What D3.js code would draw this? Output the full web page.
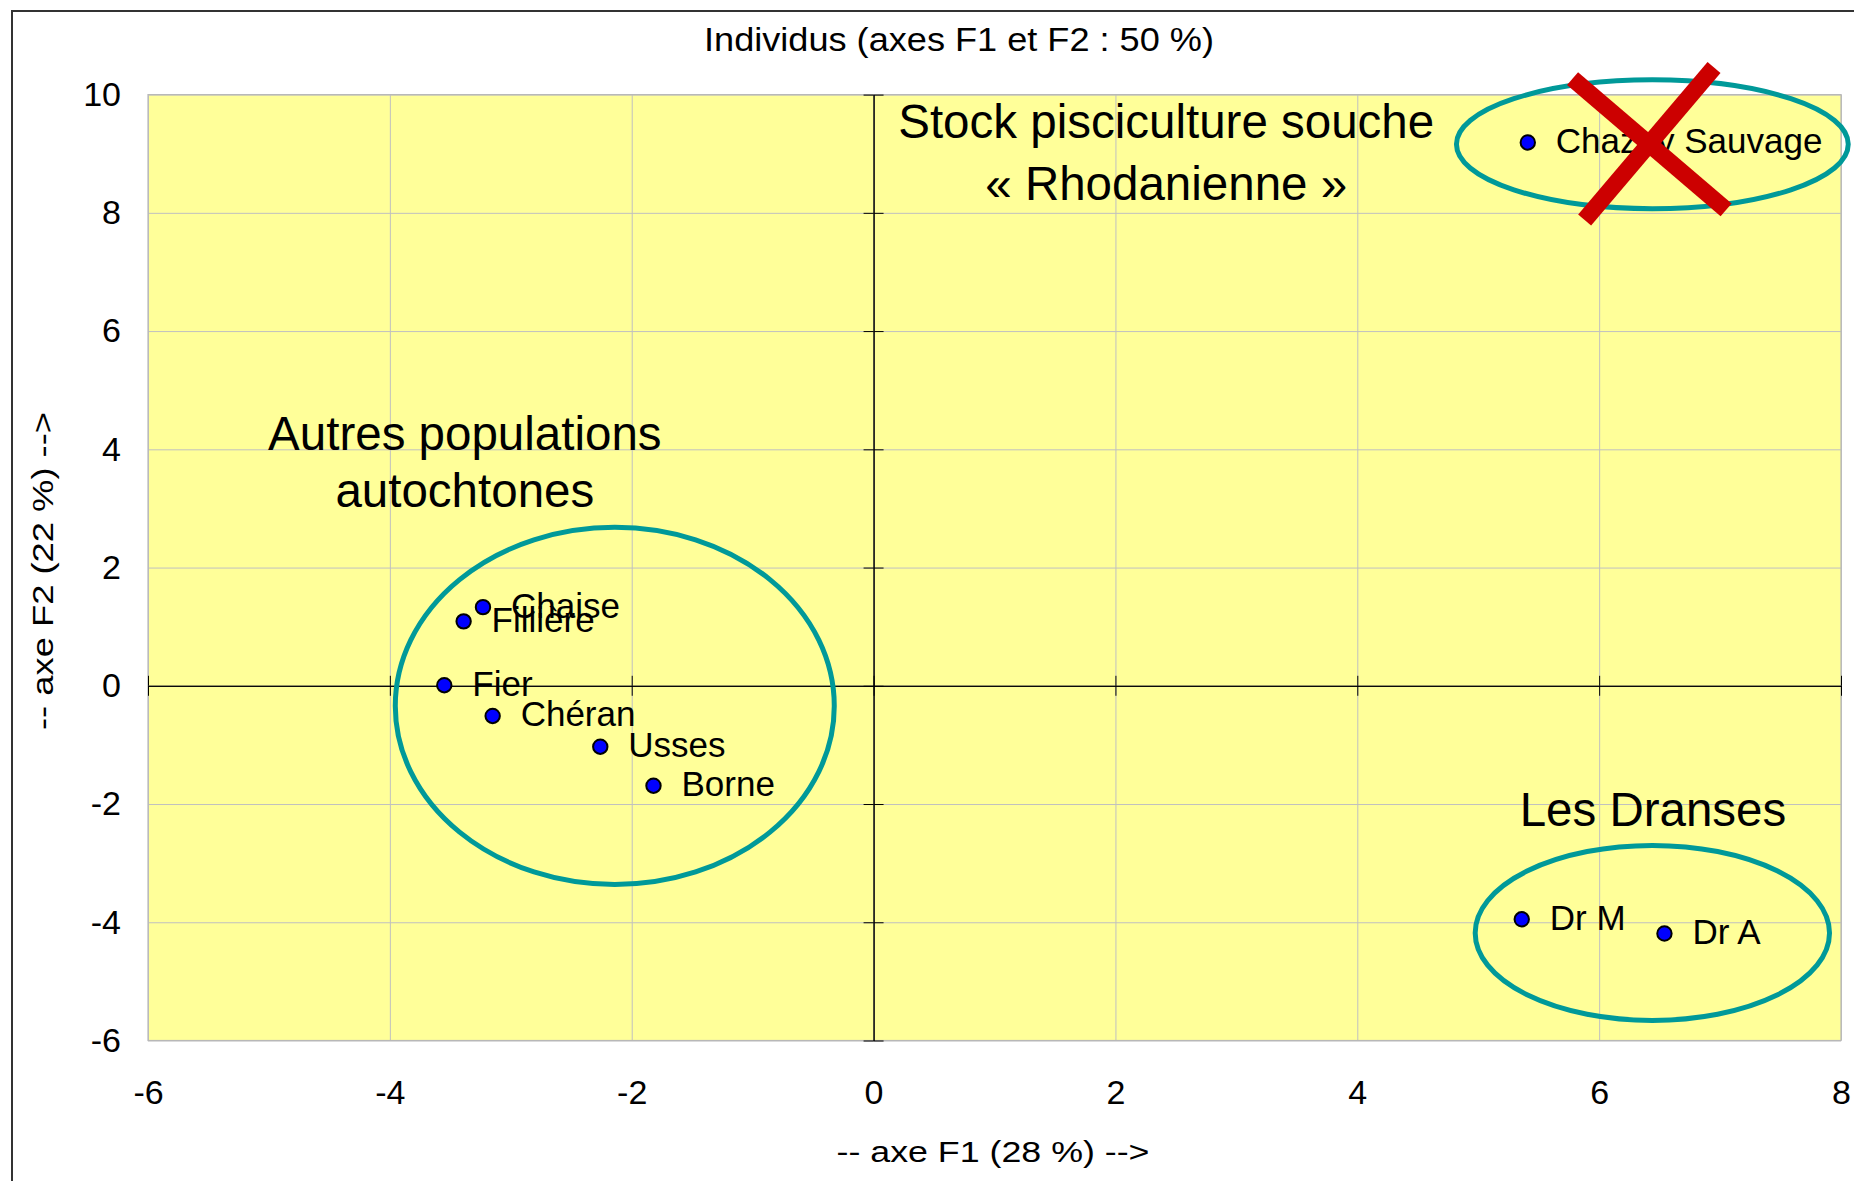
<!DOCTYPE html>
<html>
<head>
<meta charset="utf-8">
<script src="https://cdn.jsdelivr.net/npm/d3@7"></script>
<style>
  html, body { margin: 0; padding: 0; background: #fff; }
  svg { display: block; font-family: "Liberation Sans", Arial, sans-serif; }
</style>
</head>
<body>
<svg id="chart" width="1854" height="1181"></svg>
<script>
// ---- Data ----
const labels = ["Chazey Sauvage", "Chaise", "Fillière", "Fier", "Chéran", "Usses", "Borne", "Dr M", "Dr A"];
const f1 = [5.41, -3.23, -3.39, -3.55, -3.15, -2.26, -1.82, 5.36, 6.54];
const f2 = [9.19, 1.33, 1.09, 0.01, -0.51, -1.03, -1.69, -3.95, -4.19];
const xTickValues = [-6, -4, -2, 0, 2, 4, 6, 8];
const yTickValues = [-6, -4, -2, 0, 2, 4, 6, 8, 10];
const titleText = "Individus (axes F1 et F2 : 50 %)";
const xTitle = "-- axe F1 (28 %) -->";
const yTitle = "-- axe F2 (22 %) -->";
// group ellipses (data units): centre F1, centre F2, radius F1, radius F2
const ellCx = [6.44, -2.14, 6.44];
const ellCy = [9.16, -0.34, -4.18];
const ellRx = [1.62, 1.815, 1.465];
const ellRy = [1.09, 3.02, 1.48];
// group annotations (data units)
const noteLines = ["Stock pisciculture souche", "« Rhodanienne »", "Autres populations", "autochtones", "Les Dranses"];
const noteX = [2.42, 2.42, -3.38, -3.38, 6.445];
const noteY = [9.26, 8.22, 3.99, 3.03, -2.38];
// red cross over Chazey Sauvage (data units)
const crossX1 = [5.78, 6.95];
const crossY1 = [10.27, 10.46];
const crossX2 = [7.05, 5.88];
const crossY2 = [8.05, 7.88];

// ---- Layout ----
const svg = d3.select("#chart");
const L = 148, R = 1841, T = 94.6, B = 1040.5;
const x = d3.scaleLinear().domain([-6, 8]).range([L, R]);
const y = d3.scaleLinear().domain([-6, 10]).range([B, T]);

// outer chart frame
svg.append("rect").attr("x", 12).attr("y", 11).attr("width", 2000).attr("height", 2000)
  .attr("fill", "none").attr("stroke", "#333").attr("stroke-width", 2);

// plot background
svg.append("rect").attr("x", L).attr("y", T).attr("width", R - L).attr("height", B - T)
  .attr("fill", "#FFFF99");

// grid
const gx = svg.append("g").attr("transform", `translate(0,${B})`)
  .call(d3.axisBottom(x).tickValues(xTickValues).tickSize(-(B - T)).tickSizeOuter(0).tickFormat(""));
gx.select(".domain").remove();
gx.selectAll("line").attr("stroke", "#C0C0C0");
const gy = svg.append("g").attr("transform", `translate(${L},0)`)
  .call(d3.axisLeft(y).tickValues(yTickValues).tickSize(-(R - L)).tickSizeOuter(0).tickFormat(""));
gy.select(".domain").remove();
gy.selectAll("line").attr("stroke", "#C0C0C0");

// plot border
svg.append("rect").attr("x", L).attr("y", T).attr("width", R - L).attr("height", B - T)
  .attr("fill", "none").attr("stroke", "#B8B8B8").attr("stroke-width", 1.2);

// zero axes with crossing ticks
function styleAxis(g) {
  g.selectAll("path.domain").attr("stroke", "#000").attr("stroke-width", 1);
  g.selectAll("line").attr("stroke", "#000").attr("stroke-width", 1);
}
[d3.axisBottom, d3.axisTop].forEach(a => {
  svg.append("g").attr("transform", `translate(0,${y(0)})`)
    .call(a(x).tickValues(xTickValues).tickSize(10).tickSizeOuter(0).tickFormat(""))
    .call(styleAxis);
});
[d3.axisLeft, d3.axisRight].forEach(a => {
  svg.append("g").attr("transform", `translate(${x(0)},0)`)
    .call(a(y).tickValues(yTickValues).tickSize(10).tickSizeOuter(0).tickFormat(""))
    .call(styleAxis);
});

// tick labels
const xl = svg.append("g").attr("transform", `translate(0,${B})`)
  .call(d3.axisBottom(x).tickValues(xTickValues).tickSize(0).tickPadding(39).tickFormat(d => String(d)));
xl.select(".domain").remove();
xl.selectAll("text").attr("font-size", 34).attr("fill", "#000").attr("font-family", "Liberation Sans, Arial, sans-serif");
const yl = svg.append("g").attr("transform", `translate(${L},0)`)
  .call(d3.axisLeft(y).tickValues(yTickValues).tickSize(0).tickPadding(27).tickFormat(d => String(d)));
yl.select(".domain").remove();
yl.selectAll("text").attr("font-size", 34).attr("fill", "#000").attr("font-family", "Liberation Sans, Arial, sans-serif");

// titles
svg.append("text").attr("x", 959).attr("y", 50.7).attr("text-anchor", "middle")
  .attr("font-size", 33).attr("textLength", 510).attr("lengthAdjust", "spacingAndGlyphs").text(titleText);
svg.append("text").attr("x", 993).attr("y", 1161.7).attr("text-anchor", "middle")
  .attr("font-size", 29).attr("textLength", 313).attr("lengthAdjust", "spacingAndGlyphs").text(xTitle);
svg.append("text").attr("transform", "translate(53.3,571) rotate(-90)").attr("text-anchor", "middle")
  .attr("font-size", 29).attr("textLength", 318).attr("lengthAdjust", "spacingAndGlyphs").text(yTitle);

// ellipses
svg.append("g").selectAll("ellipse").data(ellCx.map((c, i) => i)).join("ellipse")
  .attr("cx", i => x(ellCx[i])).attr("cy", i => y(ellCy[i]))
  .attr("rx", i => x(ellRx[i]) - x(0)).attr("ry", i => y(0) - y(ellRy[i]))
  .attr("fill", "none").attr("stroke", "#009999").attr("stroke-width", 5);

// points
const pts = labels.map((l, i) => ({ label: l, f1: f1[i], f2: f2[i] }));
svg.append("g").selectAll("circle").data(pts).join("circle")
  .attr("cx", d => x(d.f1)).attr("cy", d => y(d.f2)).attr("r", 7.2)
  .attr("fill", "#0000FF").attr("stroke", "#000").attr("stroke-width", 2);
svg.append("g").selectAll("text").data(pts).join("text")
  .attr("x", d => x(d.f1) + 28).attr("y", d => y(d.f2) + 10.5)
  .attr("font-size", 35).attr("fill", "#000").text(d => d.label);

// group annotations
svg.append("g").selectAll("text").data(noteLines.map((t, i) => i)).join("text")
  .attr("x", i => x(noteX[i])).attr("y", i => y(noteY[i]))
  .attr("text-anchor", "middle").attr("font-size", 47.5).attr("fill", "#000")
  .text(i => noteLines[i]);

// red cross
svg.append("g").selectAll("line").data(crossX1.map((c, i) => i)).join("line")
  .attr("x1", i => x(crossX1[i])).attr("y1", i => y(crossY1[i]))
  .attr("x2", i => x(crossX2[i])).attr("y2", i => y(crossY2[i]))
  .attr("stroke", "#CC0000").attr("stroke-width", 17);
</script>
</body>
</html>
